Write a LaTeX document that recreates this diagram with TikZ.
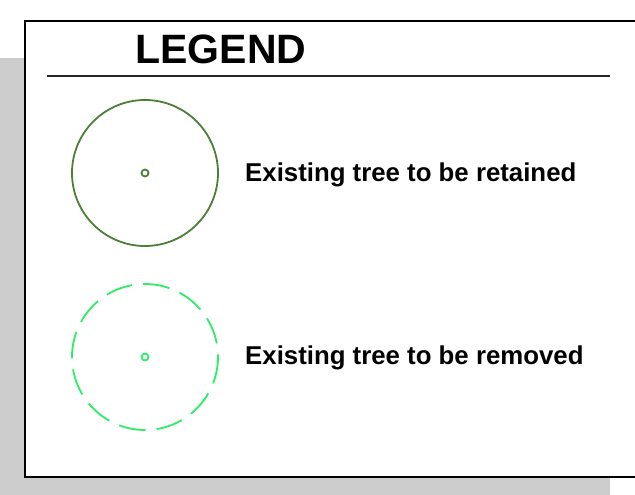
\documentclass[tikz,border=0pt]{standalone}
\usepackage{fontspec}
\setmainfont{Liberation Sans}
\begin{document}
\begin{tikzpicture}[x=1pt,y=-1pt,
  shadow/.style={fill=black!20,draw=none},
  frame/.style={draw=black,line width=2pt,fill=white},
  retained/.style={draw=treedark,line width=1.8pt},
  removed/.style={draw=treebright,line width=1.8pt,dash pattern=on 27pt off 11pt},
  label/.style={anchor=base west,font=\bfseries\fontsize{25.8}{30}\selectfont,inner sep=0pt}]
\definecolor{treedark}{HTML}{4C8038}
\definecolor{treebright}{HTML}{2EEE66}
\useasboundingbox (0,0) rectangle (635,495);
% drop shadow and legend panel
\fill[black!20] (0,58) rectangle (610,495);
\draw[frame] (25,21) rectangle (640,477);
% heading
\node[font=\bfseries\fontsize{41}{48}\selectfont,inner sep=0pt,anchor=base] (title) at (221,64) {LEGEND};
\draw[line width=1.8pt,black!85] (47,76) -- (610,76);
% retained tree
\draw[retained] (145,173) circle (73);
\draw[retained] (145,173) circle (3.5);
\node[label] (t1) at (245,181) {Existing tree to be retained};
% removed tree
\draw[removed] (145,357) circle (73);
\draw[treebright,line width=1.8pt] (145,357) circle (3.5);
\node[label] (t2) at (245,364) {Existing tree to be removed};
\end{tikzpicture}
\end{document}
